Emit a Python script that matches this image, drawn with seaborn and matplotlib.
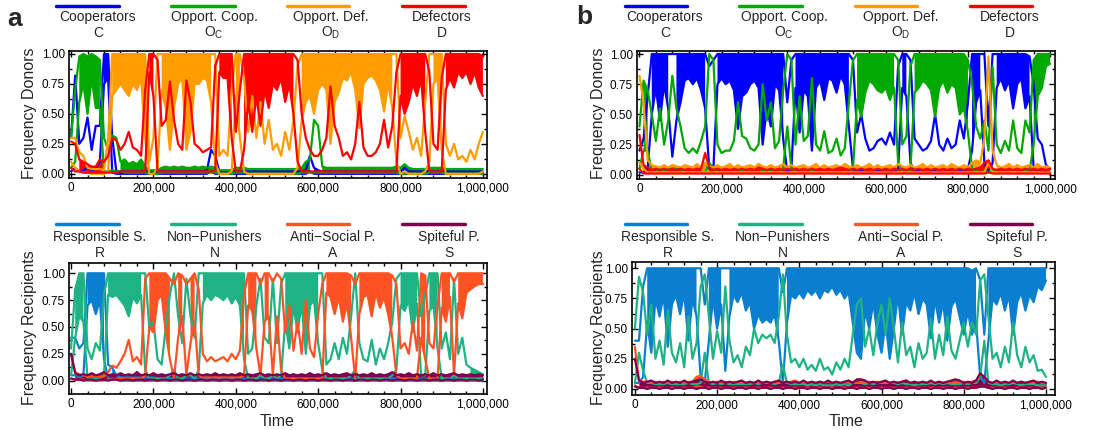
import numpy as np
import matplotlib
matplotlib.use("Agg")
import matplotlib.pyplot as plt
from matplotlib.lines import Line2D
from matplotlib.ticker import FuncFormatter, MultipleLocator
import seaborn as sns

# one sample every 10,000 steps; each series is given as the low and high
# edge of the band it covers within that window
TIME = np.arange(0, 1_000_001, 10_000)

# ---------------- panel a, donors ----------------
a_C_lo = [0.02, 0.05, 0.02, 0.03, 0.05, 0.03, 0.05, 0.10, 0.75, 0.80,
          0.01, 0.00, 0.00, 0.00, 0.00, 0.00, 0.00, 0.00, 0.00, 0.00,
          0.00, 0.00, 0.00, 0.00, 0.00, 0.00, 0.00, 0.00, 0.00, 0.00,
          0.00, 0.00, 0.00, 0.00, 0.02, 0.00, 0.00, 0.00, 0.00, 0.00,
          0.00, 0.00, 0.00, 0.00, 0.00, 0.00, 0.00, 0.00, 0.00, 0.00,
          0.00, 0.00, 0.00, 0.00, 0.00, 0.00, 0.00, 0.00, 0.02, 0.00,
          0.00, 0.00, 0.00, 0.00, 0.00, 0.00, 0.00, 0.00, 0.00, 0.00,
          0.00, 0.00, 0.00, 0.00, 0.00, 0.00, 0.00, 0.00, 0.00, 0.00,
          0.00, 0.00, 0.00, 0.00, 0.00, 0.00, 0.00, 0.00, 0.00, 0.00,
          0.00, 0.00, 0.00, 0.00, 0.00, 0.00, 0.00, 0.00, 0.00, 0.00, 0.00]
a_C_hi = [0.30, 0.82, 0.25, 0.30, 0.47, 0.20, 0.40, 0.40, 1.00, 1.00,
          0.30, 0.02, 0.02, 0.02, 0.02, 0.02, 0.02, 0.02, 0.02, 0.02,
          0.02, 0.02, 0.02, 0.02, 0.02, 0.02, 0.02, 0.02, 0.02, 0.02,
          0.02, 0.02, 0.02, 0.03, 0.20, 0.15, 0.02, 0.02, 0.02, 0.02,
          0.02, 0.02, 0.02, 0.02, 0.02, 0.02, 0.02, 0.02, 0.02, 0.02,
          0.02, 0.02, 0.02, 0.02, 0.02, 0.02, 0.02, 0.03, 0.15, 0.05,
          0.03, 0.02, 0.02, 0.02, 0.02, 0.02, 0.02, 0.02, 0.02, 0.02,
          0.02, 0.02, 0.02, 0.02, 0.02, 0.02, 0.02, 0.02, 0.02, 0.02,
          0.02, 0.05, 0.02, 0.02, 0.02, 0.02, 0.02, 0.02, 0.02, 0.02,
          0.02, 0.02, 0.02, 0.02, 0.02, 0.02, 0.02, 0.02, 0.02, 0.02, 0.02]
a_OC_lo = [0.05, 0.10, 0.60, 0.75, 0.50, 0.80, 0.55, 0.55, 0.02, 0.02,
           0.03, 0.02, 0.02, 0.01, 0.01, 0.01, 0.01, 0.01, 0.01, 0.00,
           0.00, 0.00, 0.01, 0.01, 0.01, 0.01, 0.01, 0.01, 0.01, 0.01,
           0.01, 0.01, 0.01, 0.01, 0.01, 0.01, 0.00, 0.00, 0.00, 0.00,
           0.01, 0.01, 0.01, 0.00, 0.00, 0.00, 0.00, 0.00, 0.00, 0.00,
           0.00, 0.00, 0.00, 0.00, 0.00, 0.00, 0.01, 0.01, 0.01, 0.01,
           0.01, 0.01, 0.01, 0.01, 0.01, 0.01, 0.01, 0.01, 0.01, 0.01,
           0.01, 0.01, 0.01, 0.01, 0.01, 0.01, 0.01, 0.01, 0.01, 0.01,
           0.00, 0.00, 0.00, 0.00, 0.00, 0.00, 0.00, 0.01, 0.01, 0.01,
           0.01, 0.00, 0.00, 0.00, 0.00, 0.00, 0.00, 0.00, 0.00, 0.00, 0.00]
a_OC_hi = [0.30, 0.70, 0.98, 1.00, 0.98, 1.00, 0.98, 0.95, 0.30, 0.20,
           0.32, 0.30, 0.10, 0.12, 0.08, 0.10, 0.08, 0.12, 0.06, 0.03,
           0.03, 0.03, 0.05, 0.06, 0.05, 0.06, 0.05, 0.06, 0.05, 0.05,
           0.06, 0.05, 0.06, 0.05, 0.06, 0.05, 0.03, 0.03, 0.03, 0.03,
           0.05, 0.05, 0.05, 0.04, 0.04, 0.04, 0.04, 0.04, 0.04, 0.04,
           0.04, 0.04, 0.04, 0.04, 0.04, 0.04, 0.05, 0.10, 0.12, 0.45,
           0.40, 0.06, 0.05, 0.05, 0.05, 0.05, 0.05, 0.05, 0.05, 0.05,
           0.05, 0.05, 0.05, 0.05, 0.05, 0.05, 0.05, 0.05, 0.05, 0.06,
           0.05, 0.08, 0.05, 0.04, 0.04, 0.04, 0.04, 0.05, 0.05, 0.05,
           0.05, 0.04, 0.04, 0.04, 0.04, 0.04, 0.04, 0.04, 0.04, 0.04, 0.04]
a_OD_lo = [0.10, 0.05, 0.02, 0.01, 0.01, 0.00, 0.00, 0.00, 0.00, 0.02,
           0.65, 0.70, 0.75, 0.70, 0.65, 0.75, 0.70, 0.80, 0.30, 0.00,
           0.00, 0.05, 0.70, 0.55, 0.20, 0.55, 0.75, 0.80, 0.20, 0.35,
           0.75, 0.75, 0.80, 0.78, 0.60, 0.10, 0.00, 0.00, 0.00, 0.02,
           0.65, 0.30, 0.02, 0.00, 0.00, 0.00, 0.00, 0.00, 0.00, 0.00,
           0.00, 0.00, 0.00, 0.00, 0.00, 0.05, 0.45, 0.60, 0.65, 0.50,
           0.70, 0.75, 0.70, 0.25, 0.60, 0.68, 0.80, 0.78, 0.85, 0.70,
           0.38, 0.75, 0.80, 0.82, 0.78, 0.70, 0.52, 0.75, 0.55, 0.10,
           0.00, 0.02, 0.00, 0.00, 0.00, 0.00, 0.02, 0.10, 0.75, 0.80,
           0.20, 0.00, 0.00, 0.00, 0.00, 0.00, 0.00, 0.00, 0.00, 0.00, 0.02]
a_OD_hi = [0.30, 0.30, 0.18, 0.15, 0.05, 0.04, 0.04, 0.04, 0.03, 0.30,
           1.00, 1.00, 1.00, 1.00, 1.00, 1.00, 1.00, 1.00, 1.00, 0.10,
           0.30, 1.00, 1.00, 1.00, 1.00, 1.00, 1.00, 1.00, 1.00, 1.00,
           1.00, 1.00, 1.00, 1.00, 1.00, 1.00, 0.15, 0.20, 0.15, 0.70,
           1.00, 1.00, 0.80, 0.35, 0.65, 0.30, 0.60, 0.25, 0.45, 0.20,
           0.25, 0.15, 0.35, 0.20, 0.45, 0.90, 1.00, 1.00, 1.00, 1.00,
           1.00, 1.00, 1.00, 1.00, 1.00, 1.00, 1.00, 1.00, 1.00, 1.00,
           1.00, 1.00, 1.00, 1.00, 1.00, 1.00, 1.00, 1.00, 1.00, 1.00,
           0.30, 0.48, 0.35, 0.20, 0.30, 0.15, 0.60, 1.00, 1.00, 1.00,
           1.00, 0.25, 0.15, 0.25, 0.12, 0.15, 0.10, 0.20, 0.12, 0.25, 0.35]
a_D_lo = [0.05, 0.02, 0.02, 0.01, 0.01, 0.01, 0.01, 0.01, 0.01, 0.01,
          0.01, 0.01, 0.02, 0.02, 0.02, 0.02, 0.02, 0.02, 0.02, 0.85,
          0.65, 0.02, 0.02, 0.02, 0.02, 0.02, 0.02, 0.02, 0.02, 0.02,
          0.02, 0.02, 0.02, 0.02, 0.02, 0.02, 0.85, 0.80, 0.80, 0.30,
          0.02, 0.02, 0.20, 0.60, 0.35, 0.65, 0.40, 0.70, 0.55, 0.75,
          0.70, 0.80, 0.60, 0.75, 0.50, 0.10, 0.02, 0.02, 0.02, 0.02,
          0.02, 0.02, 0.02, 0.02, 0.02, 0.02, 0.02, 0.02, 0.02, 0.02,
          0.02, 0.02, 0.02, 0.02, 0.02, 0.02, 0.02, 0.02, 0.02, 0.02,
          0.65, 0.50, 0.60, 0.75, 0.65, 0.80, 0.35, 0.02, 0.02, 0.02,
          0.02, 0.70, 0.80, 0.72, 0.85, 0.80, 0.85, 0.75, 0.85, 0.72, 0.65]
a_D_hi = [0.27, 0.25, 0.12, 0.10, 0.08, 0.06, 0.06, 0.12, 0.10, 0.15,
          0.30, 0.28, 0.20, 0.25, 0.35, 0.22, 0.20, 0.15, 0.70, 1.00,
          1.00, 0.95, 0.40, 0.45, 0.77, 0.45, 0.25, 0.20, 0.78, 0.60,
          0.25, 0.22, 0.18, 0.20, 0.22, 0.90, 1.00, 1.00, 1.00, 1.00,
          0.35, 0.70, 1.00, 1.00, 1.00, 1.00, 1.00, 1.00, 1.00, 1.00,
          1.00, 1.00, 1.00, 1.00, 1.00, 0.95, 0.50, 0.30, 0.20, 0.15,
          0.15, 0.20, 0.30, 0.73, 0.40, 0.30, 0.15, 0.18, 0.12, 0.25,
          0.60, 0.22, 0.15, 0.15, 0.18, 0.25, 0.45, 0.22, 0.40, 0.85,
          1.00, 1.00, 1.00, 1.00, 1.00, 1.00, 1.00, 0.85, 0.25, 0.20,
          0.80, 1.00, 1.00, 1.00, 1.00, 1.00, 1.00, 1.00, 1.00, 1.00, 0.98]

# ---------------- panel a, recipients ----------------
a_R_lo = [0.05, 0.05, 0.03, 0.05, 0.70, 0.75, 0.62, 0.75, 0.20, 0.02,
          0.02, 0.01, 0.00, 0.00, 0.00, 0.00, 0.00, 0.00, 0.00, 0.00,
          0.00, 0.00, 0.00, 0.00, 0.00, 0.00, 0.00, 0.00, 0.00, 0.00,
          0.00, 0.00, 0.00, 0.00, 0.00, 0.00, 0.00, 0.00, 0.00, 0.00,
          0.00, 0.00, 0.00, 0.00, 0.00, 0.00, 0.00, 0.00, 0.00, 0.00,
          0.00, 0.00, 0.00, 0.00, 0.00, 0.00, 0.00, 0.00, 0.00, 0.00,
          0.00, 0.00, 0.00, 0.00, 0.00, 0.00, 0.00, 0.00, 0.00, 0.00,
          0.00, 0.00, 0.00, 0.00, 0.00, 0.00, 0.00, 0.00, 0.00, 0.00,
          0.00, 0.00, 0.00, 0.00, 0.00, 0.00, 0.00, 0.00, 0.00, 0.00,
          0.00, 0.00, 0.00, 0.00, 0.00, 0.00, 0.00, 0.00, 0.00, 0.00, 0.00]
a_R_hi = [0.40, 0.40, 0.30, 0.35, 1.00, 1.00, 1.00, 1.00, 1.00, 0.15,
          0.12, 0.05, 0.03, 0.03, 0.03, 0.03, 0.03, 0.03, 0.03, 0.03,
          0.03, 0.02, 0.02, 0.02, 0.02, 0.02, 0.02, 0.02, 0.02, 0.02,
          0.02, 0.02, 0.02, 0.02, 0.02, 0.02, 0.02, 0.02, 0.02, 0.02,
          0.02, 0.02, 0.02, 0.02, 0.02, 0.02, 0.02, 0.02, 0.02, 0.02,
          0.02, 0.02, 0.02, 0.02, 0.02, 0.02, 0.02, 0.02, 0.02, 0.02,
          0.02, 0.02, 0.02, 0.02, 0.02, 0.02, 0.02, 0.02, 0.02, 0.02,
          0.02, 0.02, 0.02, 0.02, 0.02, 0.02, 0.02, 0.02, 0.02, 0.02,
          0.02, 0.02, 0.02, 0.02, 0.02, 0.02, 0.02, 0.02, 0.02, 0.02,
          0.02, 0.02, 0.02, 0.02, 0.02, 0.02, 0.02, 0.02, 0.02, 0.02, 0.02]
a_N_lo = [0.05, 0.40, 0.60, 0.55, 0.02, 0.02, 0.02, 0.02, 0.05, 0.80,
          0.78, 0.80, 0.75, 0.70, 0.60, 0.78, 0.72, 0.80, 0.10, 0.02,
          0.02, 0.02, 0.02, 0.02, 0.05, 0.10, 0.02, 0.02, 0.05, 0.05,
          0.02, 0.10, 0.72, 0.80, 0.75, 0.80, 0.78, 0.75, 0.80, 0.72,
          0.78, 0.70, 0.20, 0.02, 0.02, 0.02, 0.05, 0.02, 0.02, 0.05,
          0.02, 0.05, 0.55, 0.30, 0.70, 0.45, 0.72, 0.25, 0.70, 0.75,
          0.35, 0.10, 0.02, 0.02, 0.02, 0.02, 0.02, 0.02, 0.05, 0.10,
          0.02, 0.02, 0.02, 0.02, 0.02, 0.02, 0.02, 0.02, 0.05, 0.10,
          0.70, 0.65, 0.75, 0.45, 0.72, 0.05, 0.05, 0.65, 0.70, 0.30,
          0.02, 0.02, 0.02, 0.05, 0.02, 0.02, 0.02, 0.02, 0.02, 0.02, 0.02]
a_N_hi = [0.30, 0.85, 1.00, 1.00, 0.30, 0.20, 0.35, 0.28, 0.80, 1.00,
          1.00, 1.00, 1.00, 1.00, 1.00, 1.00, 1.00, 1.00, 1.00, 0.50,
          0.55, 0.20, 0.15, 0.50, 0.80, 1.00, 0.60, 0.35, 0.95, 0.60,
          0.40, 1.00, 1.00, 1.00, 1.00, 1.00, 1.00, 1.00, 1.00, 1.00,
          1.00, 1.00, 1.00, 0.25, 0.30, 0.70, 0.95, 0.40, 0.35, 0.95,
          0.35, 0.90, 1.00, 1.00, 1.00, 1.00, 1.00, 1.00, 1.00, 1.00,
          1.00, 1.00, 0.15, 0.20, 0.35, 0.20, 0.40, 0.25, 0.60, 1.00,
          0.35, 0.20, 0.18, 0.38, 0.15, 0.30, 0.20, 0.35, 0.55, 0.95,
          1.00, 1.00, 1.00, 1.00, 1.00, 0.60, 0.80, 1.00, 1.00, 1.00,
          0.30, 0.45, 0.20, 0.95, 0.25, 0.40, 0.15, 0.12, 0.10, 0.08, 0.06]
a_A_lo = [0.02, 0.01, 0.01, 0.01, 0.00, 0.00, 0.00, 0.00, 0.00, 0.01,
          0.01, 0.02, 0.02, 0.02, 0.02, 0.02, 0.02, 0.02, 0.05, 0.50,
          0.45, 0.75, 0.80, 0.45, 0.20, 0.02, 0.40, 0.60, 0.05, 0.35,
          0.55, 0.05, 0.03, 0.03, 0.03, 0.03, 0.03, 0.03, 0.03, 0.03,
          0.03, 0.03, 0.05, 0.70, 0.65, 0.30, 0.05, 0.55, 0.60, 0.05,
          0.60, 0.10, 0.02, 0.02, 0.02, 0.02, 0.02, 0.02, 0.02, 0.02,
          0.02, 0.02, 0.82, 0.78, 0.62, 0.78, 0.55, 0.72, 0.40, 0.02,
          0.62, 0.78, 0.80, 0.60, 0.82, 0.68, 0.78, 0.62, 0.40, 0.05,
          0.02, 0.02, 0.02, 0.02, 0.02, 0.40, 0.20, 0.02, 0.02, 0.02,
          0.68, 0.55, 0.78, 0.05, 0.72, 0.58, 0.82, 0.85, 0.88, 0.90, 0.90]
a_A_hi = [0.25, 0.08, 0.06, 0.05, 0.04, 0.04, 0.04, 0.04, 0.04, 0.08,
          0.14, 0.12, 0.18, 0.25, 0.38, 0.18, 0.22, 0.15, 0.95, 1.00,
          1.00, 1.00, 1.00, 1.00, 0.95, 0.90, 1.00, 0.98, 0.90, 0.95,
          1.00, 0.85, 0.25, 0.18, 0.22, 0.18, 0.20, 0.22, 0.18, 0.25,
          0.20, 0.28, 0.80, 1.00, 1.00, 1.00, 0.90, 1.00, 1.00, 0.92,
          1.00, 0.95, 0.45, 0.70, 0.28, 0.55, 0.25, 0.75, 0.30, 0.22,
          0.62, 0.90, 1.00, 1.00, 1.00, 1.00, 1.00, 1.00, 0.98, 0.90,
          1.00, 1.00, 1.00, 1.00, 1.00, 1.00, 1.00, 1.00, 0.98, 0.90,
          0.30, 0.35, 0.25, 0.55, 0.28, 1.00, 0.98, 0.35, 0.30, 0.70,
          1.00, 1.00, 1.00, 0.92, 1.00, 1.00, 1.00, 1.00, 1.00, 1.00, 1.00]
a_S_lo = [0.02, 0.01, 0.01, 0.00, 0.01, 0.01, 0.00, 0.01, 0.01, 0.00,
          0.01, 0.01, 0.00, 0.01, 0.01, 0.00, 0.01, 0.01, 0.00, 0.01,
          0.01, 0.00, 0.01, 0.01, 0.00, 0.01, 0.01, 0.00, 0.01, 0.01,
          0.00, 0.01, 0.01, 0.00, 0.01, 0.01, 0.00, 0.01, 0.01, 0.00,
          0.01, 0.01, 0.00, 0.01, 0.01, 0.00, 0.01, 0.01, 0.00, 0.01,
          0.01, 0.00, 0.01, 0.01, 0.00, 0.01, 0.01, 0.00, 0.01, 0.01,
          0.00, 0.01, 0.01, 0.00, 0.01, 0.01, 0.00, 0.01, 0.01, 0.00,
          0.01, 0.01, 0.00, 0.01, 0.01, 0.00, 0.01, 0.01, 0.00, 0.01,
          0.01, 0.00, 0.01, 0.01, 0.00, 0.01, 0.01, 0.00, 0.01, 0.01,
          0.00, 0.01, 0.01, 0.00, 0.01, 0.01, 0.00, 0.01, 0.01, 0.00, 0.01]
a_S_hi = [0.25, 0.07, 0.05, 0.06, 0.05, 0.07, 0.05, 0.06, 0.08, 0.05,
          0.06, 0.05, 0.07, 0.05, 0.06, 0.05, 0.08, 0.05, 0.06, 0.05,
          0.07, 0.05, 0.06, 0.05, 0.06, 0.07, 0.05, 0.06, 0.05, 0.07,
          0.05, 0.06, 0.05, 0.06, 0.05, 0.07, 0.05, 0.06, 0.05, 0.06,
          0.05, 0.07, 0.05, 0.06, 0.05, 0.06, 0.07, 0.05, 0.06, 0.05,
          0.06, 0.05, 0.07, 0.05, 0.06, 0.05, 0.06, 0.05, 0.07, 0.05,
          0.06, 0.05, 0.07, 0.05, 0.06, 0.05, 0.06, 0.07, 0.05, 0.06,
          0.05, 0.06, 0.05, 0.07, 0.05, 0.06, 0.05, 0.06, 0.08, 0.05,
          0.06, 0.05, 0.07, 0.05, 0.06, 0.05, 0.06, 0.05, 0.07, 0.05,
          0.06, 0.05, 0.06, 0.07, 0.05, 0.06, 0.05, 0.06, 0.05, 0.06, 0.05]

# ---------------- panel b, donors ----------------
b_C_lo = [0.02, 0.02, 0.05, 0.50, 0.72, 0.45, 0.75, 0.55, 0.15, 0.45,
          0.60, 0.78, 0.80, 0.75, 0.80, 0.70, 0.55, 0.05, 0.05, 0.75,
          0.80, 0.75, 0.78, 0.70, 0.38, 0.65, 0.68, 0.75, 0.78, 0.72,
          0.25, 0.55, 0.40, 0.75, 0.70, 0.30, 0.02, 0.05, 0.72, 0.35,
          0.70, 0.65, 0.20, 0.72, 0.78, 0.62, 0.80, 0.78, 0.68, 0.82,
          0.75, 0.40, 0.05, 0.03, 0.03, 0.03, 0.02, 0.02, 0.03, 0.03,
          0.02, 0.03, 0.02, 0.05, 0.72, 0.65, 0.10, 0.03, 0.03, 0.02,
          0.02, 0.03, 0.03, 0.02, 0.02, 0.03, 0.02, 0.02, 0.03, 0.03,
          0.05, 0.20, 0.60, 0.70, 0.10, 0.02, 0.10, 0.72, 0.80, 0.70,
          0.78, 0.55, 0.75, 0.80, 0.55, 0.65, 0.05, 0.03, 0.02, 0.02, 0.02]
b_C_hi = [0.20, 0.30, 0.65, 1.00, 1.00, 1.00, 1.00, 1.00, 1.00, 1.00,
          1.00, 1.00, 1.00, 1.00, 1.00, 1.00, 1.00, 0.90, 0.95, 1.00,
          1.00, 1.00, 1.00, 1.00, 1.00, 1.00, 1.00, 1.00, 1.00, 1.00,
          1.00, 1.00, 1.00, 1.00, 1.00, 1.00, 0.60, 0.95, 1.00, 1.00,
          1.00, 1.00, 1.00, 1.00, 1.00, 1.00, 1.00, 1.00, 1.00, 1.00,
          1.00, 1.00, 0.95, 0.35, 0.50, 0.30, 0.20, 0.22, 0.28, 0.30,
          0.25, 0.35, 0.25, 0.90, 1.00, 1.00, 0.95, 0.30, 0.25, 0.20,
          0.22, 0.28, 0.50, 0.25, 0.20, 0.30, 0.22, 0.25, 0.45, 0.30,
          0.60, 1.00, 1.00, 1.00, 1.00, 0.40, 1.00, 1.00, 1.00, 1.00,
          1.00, 1.00, 1.00, 1.00, 1.00, 0.98, 0.75, 0.30, 0.25, 0.08, 0.05]
b_OC_lo = [0.05, 0.20, 0.20, 0.03, 0.02, 0.05, 0.02, 0.05, 0.05, 0.05,
           0.05, 0.02, 0.02, 0.02, 0.02, 0.02, 0.02, 0.10, 0.05, 0.02,
           0.02, 0.02, 0.02, 0.02, 0.03, 0.03, 0.03, 0.02, 0.02, 0.02,
           0.03, 0.03, 0.03, 0.02, 0.02, 0.05, 0.40, 0.05, 0.02, 0.03,
           0.02, 0.02, 0.03, 0.02, 0.02, 0.02, 0.02, 0.02, 0.02, 0.02,
           0.02, 0.03, 0.05, 0.62, 0.48, 0.68, 0.78, 0.75, 0.70, 0.68,
           0.72, 0.62, 0.72, 0.10, 0.02, 0.02, 0.05, 0.68, 0.72, 0.78,
           0.75, 0.70, 0.48, 0.72, 0.78, 0.68, 0.75, 0.72, 0.50, 0.55,
           0.35, 0.05, 0.03, 0.02, 0.03, 0.02, 0.05, 0.02, 0.02, 0.02,
           0.02, 0.03, 0.02, 0.02, 0.03, 0.03, 0.25, 0.65, 0.72, 0.90, 0.92]
b_OC_hi = [0.40, 0.78, 0.70, 0.50, 0.28, 0.55, 0.25, 0.45, 0.82, 0.55,
           0.40, 0.22, 0.18, 0.22, 0.18, 0.28, 0.40, 1.00, 0.95, 0.25,
           0.18, 0.20, 0.20, 0.28, 0.60, 0.32, 0.30, 0.22, 0.20, 0.25,
           0.75, 0.45, 0.60, 0.22, 0.28, 0.70, 1.00, 0.95, 0.25, 0.65,
           0.28, 0.32, 0.80, 0.25, 0.20, 0.36, 0.18, 0.20, 0.30, 0.16,
           0.22, 0.60, 0.95, 1.00, 1.00, 1.00, 1.00, 1.00, 1.00, 1.00,
           1.00, 1.00, 1.00, 0.95, 0.25, 0.32, 0.90, 1.00, 1.00, 1.00,
           1.00, 1.00, 1.00, 1.00, 1.00, 1.00, 1.00, 1.00, 1.00, 1.00,
           0.95, 0.75, 0.40, 0.30, 0.45, 0.20, 0.90, 0.25, 0.18, 0.28,
           0.20, 0.45, 0.22, 0.18, 0.45, 0.35, 0.95, 1.00, 1.00, 1.00, 1.00]
b_OD_lo = [0.10, 0.05, 0.02, 0.02, 0.02, 0.02, 0.02, 0.02, 0.02, 0.02,
           0.02, 0.02, 0.02, 0.02, 0.02, 0.02, 0.02, 0.02, 0.02, 0.02,
           0.02, 0.02, 0.02, 0.02, 0.02, 0.02, 0.02, 0.02, 0.02, 0.02,
           0.02, 0.02, 0.02, 0.02, 0.02, 0.02, 0.02, 0.02, 0.02, 0.02,
           0.02, 0.02, 0.02, 0.02, 0.02, 0.02, 0.02, 0.02, 0.02, 0.02,
           0.02, 0.02, 0.02, 0.02, 0.02, 0.02, 0.02, 0.02, 0.02, 0.02,
           0.02, 0.02, 0.02, 0.02, 0.02, 0.02, 0.02, 0.02, 0.02, 0.02,
           0.02, 0.02, 0.02, 0.02, 0.02, 0.02, 0.02, 0.02, 0.02, 0.02,
           0.02, 0.02, 0.02, 0.02, 0.02, 0.10, 0.02, 0.02, 0.02, 0.02,
           0.02, 0.02, 0.02, 0.02, 0.02, 0.02, 0.02, 0.02, 0.02, 0.02, 0.02]
b_OD_hi = [0.82, 0.60, 0.12, 0.08, 0.07, 0.06, 0.08, 0.06, 0.08, 0.07,
           0.06, 0.08, 0.07, 0.06, 0.09, 0.06, 0.10, 0.07, 0.06, 0.08,
           0.06, 0.07, 0.09, 0.06, 0.08, 0.06, 0.07, 0.08, 0.06, 0.09,
           0.07, 0.06, 0.08, 0.06, 0.07, 0.09, 0.06, 0.08, 0.06, 0.07,
           0.08, 0.06, 0.07, 0.09, 0.06, 0.08, 0.06, 0.07, 0.08, 0.06,
           0.09, 0.07, 0.06, 0.08, 0.06, 0.07, 0.09, 0.06, 0.08, 0.06,
           0.07, 0.08, 0.06, 0.09, 0.07, 0.06, 0.08, 0.06, 0.07, 0.09,
           0.06, 0.08, 0.06, 0.07, 0.08, 0.06, 0.09, 0.07, 0.06, 0.08,
           0.06, 0.10, 0.12, 0.10, 0.30, 0.98, 0.20, 0.08, 0.06, 0.07,
           0.09, 0.06, 0.08, 0.06, 0.07, 0.08, 0.06, 0.09, 0.06, 0.07, 0.06]
b_D_lo = [0.05, 0.01, 0.01, 0.01, 0.01, 0.01, 0.01, 0.01, 0.01, 0.01,
          0.01, 0.01, 0.01, 0.01, 0.01, 0.01, 0.01, 0.01, 0.01, 0.01,
          0.01, 0.01, 0.01, 0.01, 0.01, 0.01, 0.01, 0.01, 0.01, 0.01,
          0.01, 0.01, 0.01, 0.01, 0.01, 0.01, 0.01, 0.01, 0.01, 0.01,
          0.01, 0.01, 0.01, 0.01, 0.01, 0.01, 0.01, 0.01, 0.01, 0.01,
          0.01, 0.01, 0.01, 0.01, 0.01, 0.01, 0.01, 0.01, 0.01, 0.01,
          0.01, 0.01, 0.01, 0.01, 0.01, 0.01, 0.01, 0.01, 0.01, 0.01,
          0.01, 0.01, 0.01, 0.01, 0.01, 0.01, 0.01, 0.01, 0.01, 0.01,
          0.01, 0.01, 0.01, 0.01, 0.01, 0.02, 0.01, 0.01, 0.01, 0.01,
          0.01, 0.01, 0.01, 0.01, 0.01, 0.01, 0.01, 0.01, 0.01, 0.01, 0.01]
b_D_hi = [0.33, 0.08, 0.06, 0.04, 0.05, 0.04, 0.05, 0.04, 0.05, 0.04,
          0.05, 0.04, 0.05, 0.04, 0.05, 0.05, 0.18, 0.06, 0.04, 0.05,
          0.04, 0.05, 0.04, 0.05, 0.04, 0.05, 0.04, 0.05, 0.04, 0.06,
          0.05, 0.04, 0.05, 0.04, 0.05, 0.04, 0.05, 0.04, 0.05, 0.04,
          0.05, 0.04, 0.05, 0.04, 0.05, 0.04, 0.05, 0.04, 0.05, 0.06,
          0.05, 0.04, 0.05, 0.04, 0.05, 0.04, 0.05, 0.04, 0.05, 0.04,
          0.05, 0.04, 0.05, 0.04, 0.05, 0.04, 0.05, 0.04, 0.05, 0.04,
          0.05, 0.04, 0.05, 0.04, 0.05, 0.04, 0.05, 0.04, 0.05, 0.04,
          0.05, 0.04, 0.05, 0.06, 0.10, 0.12, 0.05, 0.04, 0.05, 0.04,
          0.05, 0.04, 0.05, 0.04, 0.05, 0.04, 0.05, 0.04, 0.05, 0.04, 0.05]

# ---------------- panel b, recipients ----------------
b_R_lo = [0.05, 0.05, 0.10, 0.55, 0.30, 0.75, 0.60, 0.78, 0.35, 0.70,
          0.78, 0.62, 0.80, 0.40, 0.75, 0.60, 0.10, 0.05, 0.40, 0.75,
          0.50, 0.70, 0.15, 0.60, 0.78, 0.72, 0.80, 0.65, 0.72, 0.50,
          0.62, 0.55, 0.58, 0.55, 0.62, 0.40, 0.05, 0.55, 0.78, 0.75,
          0.80, 0.75, 0.82, 0.78, 0.82, 0.75, 0.82, 0.80, 0.85, 0.78,
          0.82, 0.75, 0.80, 0.55, 0.30, 0.25, 0.65, 0.50, 0.72, 0.45,
          0.30, 0.55, 0.25, 0.50, 0.78, 0.45, 0.72, 0.65, 0.80, 0.62,
          0.75, 0.70, 0.42, 0.75, 0.55, 0.72, 0.40, 0.68, 0.75, 0.60,
          0.45, 0.65, 0.45, 0.55, 0.10, 0.05, 0.40, 0.75, 0.70, 0.80,
          0.65, 0.78, 0.45, 0.72, 0.80, 0.65, 0.78, 0.72, 0.85, 0.82, 0.90]
b_R_hi = [0.40, 0.40, 0.85, 1.00, 1.00, 1.00, 1.00, 1.00, 1.00, 1.00,
          1.00, 1.00, 1.00, 1.00, 1.00, 1.00, 1.00, 0.70, 1.00, 1.00,
          1.00, 1.00, 1.00, 1.00, 1.00, 1.00, 1.00, 1.00, 1.00, 1.00,
          1.00, 1.00, 1.00, 1.00, 1.00, 1.00, 0.80, 1.00, 1.00, 1.00,
          1.00, 1.00, 1.00, 1.00, 1.00, 1.00, 1.00, 1.00, 1.00, 1.00,
          1.00, 1.00, 1.00, 1.00, 1.00, 1.00, 1.00, 1.00, 1.00, 1.00,
          1.00, 1.00, 1.00, 1.00, 1.00, 1.00, 1.00, 1.00, 1.00, 1.00,
          1.00, 1.00, 1.00, 1.00, 1.00, 1.00, 1.00, 1.00, 1.00, 1.00,
          1.00, 1.00, 0.98, 1.00, 0.90, 0.45, 1.00, 1.00, 1.00, 1.00,
          1.00, 1.00, 1.00, 1.00, 1.00, 1.00, 1.00, 1.00, 1.00, 1.00, 1.00]
b_N_lo = [0.05, 0.30, 0.15, 0.05, 0.05, 0.04, 0.04, 0.04, 0.05, 0.04,
          0.04, 0.04, 0.04, 0.05, 0.04, 0.04, 0.05, 0.30, 0.05, 0.04,
          0.05, 0.04, 0.05, 0.04, 0.04, 0.04, 0.04, 0.04, 0.04, 0.05,
          0.04, 0.05, 0.05, 0.05, 0.04, 0.05, 0.20, 0.05, 0.04, 0.04,
          0.04, 0.04, 0.03, 0.04, 0.03, 0.04, 0.03, 0.03, 0.03, 0.04,
          0.03, 0.04, 0.03, 0.05, 0.05, 0.05, 0.04, 0.05, 0.04, 0.05,
          0.05, 0.05, 0.05, 0.05, 0.04, 0.05, 0.04, 0.04, 0.03, 0.04,
          0.04, 0.04, 0.05, 0.04, 0.05, 0.04, 0.05, 0.04, 0.04, 0.04,
          0.05, 0.04, 0.05, 0.05, 0.10, 0.40, 0.05, 0.04, 0.04, 0.03,
          0.04, 0.04, 0.05, 0.04, 0.03, 0.04, 0.04, 0.04, 0.03, 0.03, 0.03]
b_N_hi = [0.50, 0.93, 0.80, 0.45, 0.70, 0.25, 0.40, 0.20, 0.65, 0.30,
          0.22, 0.38, 0.18, 0.60, 0.25, 0.38, 0.85, 0.95, 0.60, 0.25,
          0.48, 0.30, 0.85, 0.40, 0.22, 0.28, 0.18, 0.35, 0.28, 0.50,
          0.38, 0.45, 0.42, 0.45, 0.38, 0.60, 0.95, 0.45, 0.22, 0.25,
          0.18, 0.25, 0.16, 0.20, 0.15, 0.25, 0.16, 0.18, 0.12, 0.22,
          0.16, 0.25, 0.18, 0.45, 0.70, 0.75, 0.35, 0.50, 0.28, 0.55,
          0.70, 0.45, 0.75, 0.50, 0.22, 0.55, 0.28, 0.35, 0.18, 0.38,
          0.25, 0.30, 0.58, 0.25, 0.45, 0.28, 0.60, 0.32, 0.25, 0.40,
          0.55, 0.35, 0.55, 0.45, 0.90, 0.95, 0.60, 0.25, 0.30, 0.18,
          0.35, 0.22, 0.55, 0.28, 0.18, 0.35, 0.22, 0.28, 0.15, 0.16, 0.10]
b_A_lo = [0.03, 0.01, 0.01, 0.01, 0.01, 0.01, 0.01, 0.01, 0.01, 0.01,
          0.01, 0.01, 0.01, 0.01, 0.01, 0.02, 0.02, 0.01, 0.01, 0.01,
          0.01, 0.01, 0.01, 0.01, 0.01, 0.01, 0.01, 0.01, 0.01, 0.01,
          0.01, 0.01, 0.01, 0.01, 0.01, 0.01, 0.01, 0.01, 0.01, 0.01,
          0.01, 0.01, 0.01, 0.01, 0.01, 0.01, 0.01, 0.01, 0.01, 0.01,
          0.01, 0.01, 0.01, 0.01, 0.01, 0.01, 0.01, 0.01, 0.01, 0.01,
          0.01, 0.01, 0.01, 0.01, 0.01, 0.01, 0.01, 0.01, 0.01, 0.01,
          0.01, 0.01, 0.01, 0.01, 0.01, 0.01, 0.01, 0.01, 0.01, 0.01,
          0.01, 0.01, 0.01, 0.01, 0.02, 0.02, 0.01, 0.01, 0.01, 0.01,
          0.01, 0.01, 0.01, 0.01, 0.01, 0.01, 0.01, 0.01, 0.01, 0.01, 0.01]
b_A_hi = [0.35, 0.07, 0.06, 0.06, 0.05, 0.06, 0.05, 0.06, 0.05, 0.06,
          0.05, 0.06, 0.05, 0.06, 0.06, 0.10, 0.11, 0.08, 0.06, 0.05,
          0.06, 0.05, 0.06, 0.05, 0.06, 0.05, 0.06, 0.05, 0.06, 0.05,
          0.06, 0.05, 0.06, 0.05, 0.06, 0.05, 0.06, 0.05, 0.06, 0.07,
          0.05, 0.06, 0.05, 0.06, 0.05, 0.06, 0.05, 0.06, 0.05, 0.06,
          0.05, 0.06, 0.05, 0.06, 0.05, 0.06, 0.05, 0.06, 0.05, 0.06,
          0.05, 0.06, 0.05, 0.06, 0.05, 0.06, 0.07, 0.05, 0.06, 0.05,
          0.06, 0.05, 0.06, 0.05, 0.06, 0.05, 0.06, 0.05, 0.06, 0.05,
          0.06, 0.05, 0.06, 0.07, 0.12, 0.10, 0.06, 0.05, 0.06, 0.05,
          0.06, 0.05, 0.06, 0.05, 0.06, 0.05, 0.06, 0.05, 0.06, 0.05, 0.05]
b_S_lo = [0.02, 0.01, 0.01, 0.00, 0.01, 0.01, 0.00, 0.01, 0.01, 0.00,
          0.01, 0.01, 0.00, 0.01, 0.01, 0.00, 0.01, 0.01, 0.00, 0.01,
          0.01, 0.00, 0.01, 0.01, 0.00, 0.01, 0.01, 0.00, 0.01, 0.01,
          0.00, 0.01, 0.01, 0.00, 0.01, 0.01, 0.00, 0.01, 0.01, 0.00,
          0.01, 0.01, 0.00, 0.01, 0.01, 0.00, 0.01, 0.01, 0.00, 0.01,
          0.01, 0.00, 0.01, 0.01, 0.00, 0.01, 0.01, 0.00, 0.01, 0.01,
          0.00, 0.01, 0.01, 0.00, 0.01, 0.01, 0.00, 0.01, 0.01, 0.00,
          0.01, 0.01, 0.00, 0.01, 0.01, 0.00, 0.01, 0.01, 0.00, 0.01,
          0.01, 0.00, 0.01, 0.01, 0.02, 0.02, 0.01, 0.00, 0.01, 0.01,
          0.00, 0.01, 0.01, 0.00, 0.01, 0.01, 0.00, 0.01, 0.01, 0.00, 0.01]
b_S_hi = [0.25, 0.07, 0.05, 0.06, 0.07, 0.05, 0.06, 0.05, 0.07, 0.05,
          0.06, 0.05, 0.07, 0.05, 0.06, 0.07, 0.08, 0.06, 0.05, 0.06,
          0.05, 0.07, 0.05, 0.06, 0.05, 0.06, 0.07, 0.05, 0.06, 0.05,
          0.07, 0.05, 0.06, 0.05, 0.06, 0.07, 0.05, 0.06, 0.05, 0.06,
          0.05, 0.07, 0.05, 0.06, 0.05, 0.06, 0.05, 0.07, 0.05, 0.06,
          0.05, 0.06, 0.07, 0.05, 0.08, 0.08, 0.07, 0.05, 0.06, 0.05,
          0.06, 0.07, 0.05, 0.06, 0.05, 0.06, 0.07, 0.05, 0.06, 0.05,
          0.06, 0.05, 0.07, 0.05, 0.06, 0.05, 0.06, 0.07, 0.08, 0.07,
          0.05, 0.06, 0.05, 0.07, 0.13, 0.10, 0.06, 0.05, 0.07, 0.05,
          0.06, 0.05, 0.07, 0.05, 0.06, 0.05, 0.06, 0.07, 0.05, 0.06, 0.05]

DONOR_COLORS = ["#0000ff", "#00a800", "#ff9c00", "#ff0000"]
RECIP_COLORS = ["#0a7fd0", "#1fb383", "#ff5222", "#800050"]
DONOR_LABELS = [("Cooperators", "C"), ("Opport. Coop.", r"O$_\mathregular{C}$"),
                ("Opport. Def.", r"O$_\mathregular{D}$"), ("Defectors", "D")]
RECIP_LABELS = [("Responsible S.", "R"), ("Non\u2212Punishers", "N"),
                ("Anti\u2212Social P.", "A"), ("Spiteful P.", "S")]

sns.set_theme(style="ticks")
plt.rcParams["font.family"] = ["Liberation Sans", "DejaVu Sans"]
plt.rcParams["mathtext.fontset"] = "custom"
plt.rcParams["mathtext.rm"] = "Liberation Sans"

W, H = 1118, 430
fig = plt.figure(figsize=(W / 100, H / 100), dpi=100)


def px_axes(left, top, right, bottom):
    return fig.add_axes([left / W, 1 - bottom / H, (right - left) / W, (bottom - top) / H])


def fx(x):
    return x / W


def fy(y):
    return 1 - y / H


def draw_panel(ax, bands, colors, xlim, ylim):
    # later strategies are drawn over the earlier ones; a band is filled while
    # it is narrow or held at a high level, elsewhere only its edges are drawn
    for (lo, hi), c in zip(bands, colors):
        lo = np.asarray(lo)
        hi = np.asarray(hi)
        assert len(lo) == len(TIME) and len(hi) == len(TIME)
        solid = (lo >= 0.2) | (hi - lo <= 0.12)
        ax.fill_between(TIME, lo, hi, where=solid, color=c, linewidth=0)
        sns.lineplot(x=TIME, y=hi, color=c, linewidth=1.6, ax=ax)
        sns.lineplot(x=TIME, y=lo, color=c, linewidth=1.6, ax=ax)
    ax.set_xlim(*xlim)
    ax.set_ylim(*ylim)
    ax.set_xlabel("")
    ax.set_ylabel("")
    ax.xaxis.set_major_locator(MultipleLocator(200_000))
    ax.xaxis.set_minor_locator(MultipleLocator(40_000))
    ax.yaxis.set_major_locator(MultipleLocator(0.25))
    ax.yaxis.set_minor_locator(MultipleLocator(0.125))
    ax.xaxis.set_major_formatter(FuncFormatter(lambda v, p: f"{int(round(v)):,}"))
    ax.yaxis.set_major_formatter(FuncFormatter(lambda v, p: f"{v:.2f}"))
    ax.tick_params(which="both", direction="in", top=True, right=True,
                   labelsize=8.5, colors="black", width=1, pad=3)
    ax.tick_params(which="major", length=4)
    ax.tick_params(which="minor", length=2)
    for s in ax.spines.values():
        s.set_linewidth(1.2)
        s.set_color("black")


def draw_legend(line_x, text_x, line_y, text_y, labels, colors):
    for (x0, x1), tx, (l1, l2), c in zip(line_x, text_x, labels, colors):
        fig.add_artist(Line2D([fx(x0), fx(x1)], [fy(line_y), fy(line_y)],
                              color=c, lw=2.5, transform=fig.transFigure))
        fig.text(fx(tx), fy(text_y), l1, ha="center", va="center", fontsize=10)
        fig.text(fx(tx), fy(text_y + 16), l2, ha="center", va="center", fontsize=10)


ax_a1 = px_axes(69, 51, 487, 178)
draw_panel(ax_a1, [(a_C_lo, a_C_hi), (a_OC_lo, a_OC_hi), (a_OD_lo, a_OD_hi), (a_D_lo, a_D_hi)],
           DONOR_COLORS, (-5000, 1_010_000), (-0.035, 1.025))
ax_a2 = px_axes(69, 263, 487, 394)
draw_panel(ax_a2, [(a_R_lo, a_R_hi), (a_N_lo, a_N_hi), (a_A_lo, a_A_hi), (a_S_lo, a_S_hi)],
           RECIP_COLORS, (-5000, 1_010_000), (-0.124, 1.096))
ax_b1 = px_axes(637, 51, 1055, 179)
draw_panel(ax_b1, [(b_C_lo, b_C_hi), (b_OC_lo, b_OC_hi), (b_OD_lo, b_OD_hi), (b_D_lo, b_D_hi)],
           DONOR_COLORS, (-6000, 1_012_000), (-0.035, 1.025))
ax_b2 = px_axes(632, 262, 1055, 395)
draw_panel(ax_b2, [(b_R_lo, b_R_hi), (b_N_lo, b_N_hi), (b_A_lo, b_A_hi), (b_S_lo, b_S_hi)],
           RECIP_COLORS, (-7000, 1_022_000), (-0.05, 1.052))

a_line_x = [(56, 119), (171, 235), (287, 349), (402, 465)]
b_line_x = [(625, 687), (739, 802), (855, 917), (970, 1032)]
draw_legend(a_line_x, [98, 214, 331, 442], 6, 17, DONOR_LABELS, DONOR_COLORS)
draw_legend(a_line_x, [100, 215, 333, 449], 224, 237, RECIP_LABELS, RECIP_COLORS)
draw_legend(b_line_x, [665, 784, 901, 1010], 6, 17, DONOR_LABELS, DONOR_COLORS)
draw_legend(b_line_x, [668, 783, 901, 1017], 224, 237, RECIP_LABELS, RECIP_COLORS)

for x in (30, 598):
    fig.text(fx(x), fy(113), "Frequency Donors", rotation=90, ha="center", va="center", fontsize=11.5)
    fig.text(fx(x), fy(328), "Frequency Recipients", rotation=90, ha="center", va="center", fontsize=11.5)
fig.text(fx(277), fy(421), "Time", ha="center", va="center", fontsize=11.5)
fig.text(fx(846), fy(421), "Time", ha="center", va="center", fontsize=11.5)
fig.text(fx(15), fy(19), "a", ha="center", va="center", fontsize=19, fontweight="bold")
fig.text(fx(584), fy(17), "b", ha="center", va="center", fontsize=19, fontweight="bold")

fig.savefig("out.png", dpi=100)
